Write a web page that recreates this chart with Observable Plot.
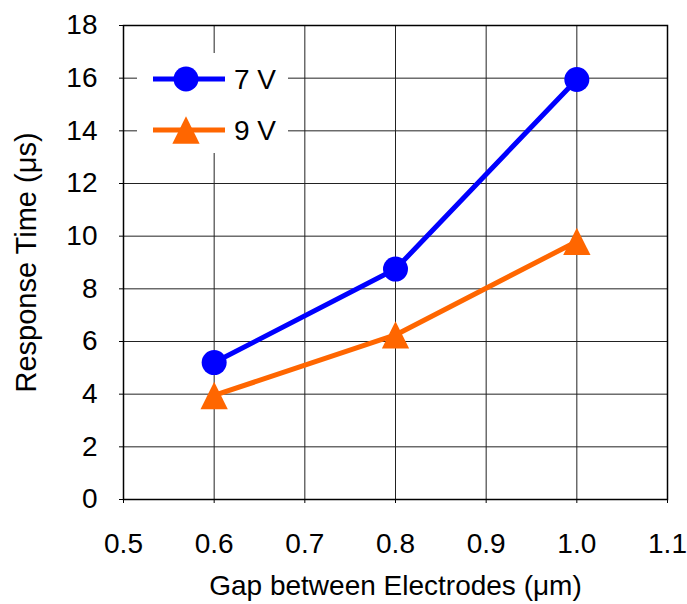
<!DOCTYPE html>
<html>
<head>
<meta charset="utf-8">
<script src="https://cdn.jsdelivr.net/npm/d3@7"></script>
<script src="https://cdn.jsdelivr.net/npm/@observablehq/plot@0.6"></script>
<style>
  body { margin: 0; background: #fff; }
  #wrap { position: relative; width: 687px; height: 604px; }
  #legend { position: absolute; left: 137px; top: 53px; width: 151px; height: 100px; background: #fff; }
</style>
</head>
<body>
<div id="wrap"></div>
<script>
const gaps = [0.6, 0.8, 1.0];
const series = ["7 V", "9 V"];
const values7V = [5.2, 8.75, 15.95];
const values9V = [3.95, 6.25, 9.8];
const xTicks = [0.5, 0.6, 0.7, 0.8, 0.9, 1.0, 1.1];
const yTicks = [0, 2, 4, 6, 8, 10, 12, 14, 16, 18];
const colors = {"7 V": "#0000ff", "9 V": "#ff6600"};

const data = [
  ...gaps.map((g, i) => ({gap: g, t: values7V[i], s: "7 V"})),
  ...gaps.map((g, i) => ({gap: g, t: values9V[i], s: "9 V"}))
];
const font = "'Liberation Sans', Arial, sans-serif";

// tall triangle marker, centred on the data point
const tallTriangle = {
  draw(context, size) {
    const r = Math.sqrt(size / Math.PI);
    const h = 2.6 * r, w = 1.3 * r;
    context.moveTo(0, -h / 2);
    context.lineTo(w, h / 2);
    context.lineTo(-w, h / 2);
    context.closePath();
  }
};

const chart = Plot.plot({
  width: 687, height: 604,
  marginLeft: 123, marginRight: 20, marginTop: 25, marginBottom: 105,
  style: {fontFamily: font, fontSize: "28px", color: "#000", background: "#fff"},
  x: {domain: [0.5, 1.1]},
  y: {domain: [0, 18]},
  marks: [
    Plot.gridX(xTicks, {stroke: "#222", strokeOpacity: 1, strokeWidth: 1}),
    Plot.gridY(yTicks, {stroke: "#222", strokeOpacity: 1, strokeWidth: 1}),
    Plot.frame({stroke: "#000", strokeWidth: 1.5}),
    Plot.axisX({ticks: xTicks, tickFormat: d => d.toFixed(1), tickSize: 4, tickPadding: 30, fontSize: 28, label: null}),
    Plot.axisX({ticks: [], tickSize: 0, label: "Gap between Electrodes (μm)", labelAnchor: "center", labelArrow: "none", labelOffset: 95, fontSize: 28}),
    Plot.axisY({ticks: yTicks, tickSize: 4, tickPadding: 22, fontSize: 28, label: null}),
    Plot.axisY({ticks: [], tickSize: 0, label: "Response Time (μs)", labelAnchor: "center", labelArrow: "none", labelOffset: 108, fontSize: 29}),
    Plot.line(data, {x: "gap", y: "t", z: "s", stroke: d => colors[d.s], strokeWidth: 5}),
    Plot.dot(data.filter(d => d.s === "7 V"), {x: "gap", y: "t", symbol: "circle", r: 12.5, fill: colors["7 V"], stroke: "none"}),
    Plot.dot(data.filter(d => d.s === "9 V"), {x: "gap", y: "t", symbol: tallTriangle, r: 10.5, fill: colors["9 V"], stroke: "none"})
  ]
});
const wrap = document.getElementById("wrap");
wrap.appendChild(chart);

// legend overlay
const leg = document.createElement("div");
leg.id = "legend";
const lsvg = d3.create("svg").attr("width", 151).attr("height", 100).style("display", "block");
series.forEach((s, i) => {
  const cy = 26 + i * 51;
  const g = lsvg.append("g");
  g.append("line").attr("x1", 16).attr("x2", 88).attr("y1", cy).attr("y2", cy)
    .attr("stroke", colors[s]).attr("stroke-width", 5);
  g.append("path").attr("transform", `translate(49,${cy})`)
    .attr("d", d3.symbol(s === "7 V" ? d3.symbolCircle : tallTriangle, Math.PI * (s === "7 V" ? 12.5 * 12.5 : 10.5 * 10.5)))
    .attr("fill", colors[s]);
  g.append("text").attr("x", 97).attr("y", cy + 10).text(s)
    .attr("font-family", font).attr("font-size", 28).attr("fill", "#000");
});
leg.appendChild(lsvg.node());
wrap.appendChild(leg);
</script>
</body>
</html>
